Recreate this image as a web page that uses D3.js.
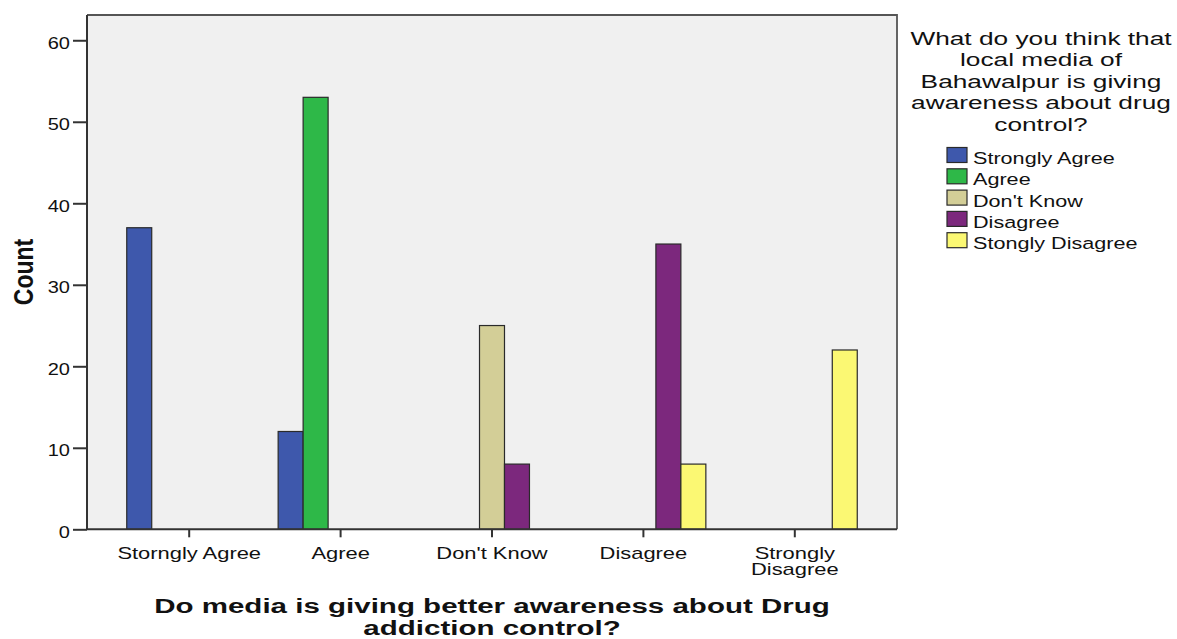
<!DOCTYPE html>
<html>
<head>
<meta charset="utf-8">
<script src="https://cdn.jsdelivr.net/npm/d3@7"></script>
<style>
  html, body { margin: 0; padding: 0; background: #ffffff; }
  svg { display: block; }
  text { font-family: "Liberation Sans", Arial, sans-serif; fill: #111; }
</style>
</head>
<body>
<svg id="chart" width="1177" height="639"></svg>
<script>
// Response categories on the x axis
const categories = ["Storngly Agree", "Agree", "Don't Know", "Disagree", "Strongly Disagree"];
// Legend groups (second question)
const seriesNames = ["Strongly Agree", "Agree", "Don't Know", "Disagree", "Stongly Disagree"];
const seriesColors = ["#3E58AC", "#2EB848", "#D3CE97", "#7C287D", "#FBF873"];
// Counts per legend group, one entry per x category
const stronglyAgree   = [37, 12, 0, 0, 0];
const agree           = [0, 53, 0, 0, 0];
const dontKnow        = [0, 0, 25, 0, 0];
const disagree        = [0, 0, 8, 35, 0];
const stonglyDisagree = [0, 0, 0, 8, 22];
const yTicks = [0, 10, 20, 30, 40, 50, 60];

const seriesValues = [stronglyAgree, agree, dontKnow, disagree, stonglyDisagree];

const svg = d3.select("#chart");
const plot = { left: 87, right: 897, top: 15, bottom: 529.3 };

// Text is drawn horizontally widened, as in the SPSS export
function stretchedText(sel, x, y, sx, anchor, size, str, weight) {
  return sel.append("text")
    .attr("transform", `translate(${x},${y}) scale(${sx},1)`)
    .attr("text-anchor", anchor)
    .attr("font-size", size)
    .attr("font-weight", weight || "normal")
    .text(str);
}

const x0 = d3.scaleBand()
  .domain(categories)
  .range([plot.left, plot.right])
  .paddingInner(0.175)
  .paddingOuter(0.2625);

const x1 = d3.scaleBand()
  .domain(seriesNames)
  .range([0, x0.bandwidth()])
  .padding(0);

const y = d3.scaleLinear()
  .domain([0, 63.1])
  .range([plot.bottom, plot.top]);

// Plot background
svg.append("rect")
  .attr("x", plot.left).attr("y", plot.top)
  .attr("width", plot.right - plot.left)
  .attr("height", plot.bottom - plot.top)
  .attr("fill", "#F0F0F0");

// Bars (zero counts are not drawn)
const barData = [];
categories.forEach((c, ci) => {
  seriesNames.forEach((s, si) => {
    const v = seriesValues[si][ci];
    if (v > 0) barData.push({ cat: c, series: s, value: v, color: seriesColors[si] });
  });
});

svg.append("g").selectAll("rect")
  .data(barData)
  .join("rect")
  .attr("x", d => x0(d.cat) + x1(d.series))
  .attr("y", d => y(d.value))
  .attr("width", x1.bandwidth())
  .attr("height", d => y(0) - y(d.value))
  .attr("fill", d => d.color)
  .attr("stroke", "#2a2a2a")
  .attr("stroke-width", 1.2);

// Frame (top and right sides)
svg.append("path")
  .attr("d", `M${plot.left},${plot.top}H${plot.right}V${plot.bottom}`)
  .attr("fill", "none")
  .attr("stroke", "#555")
  .attr("stroke-width", 1.8);

// Y axis
const yAxis = svg.append("g")
  .attr("transform", `translate(${plot.left},0)`)
  .call(d3.axisLeft(y).tickValues(yTicks).tickSize(14).tickFormat(""));
yAxis.select(".domain").attr("stroke", "#333").attr("stroke-width", 2)
  .attr("d", `M0,${plot.top}V${plot.bottom}`);
yAxis.selectAll(".tick line").attr("stroke", "#333").attr("stroke-width", 2);
yTicks.forEach(t => {
  stretchedText(svg, 70, y(t) + 8.5, 1.25, "end", 16, String(t));
});

// X axis
const xAxis = svg.append("g")
  .attr("transform", `translate(0,${plot.bottom})`)
  .call(d3.axisBottom(x0).tickSize(8).tickSizeOuter(0).tickFormat(""));
xAxis.select(".domain").attr("stroke", "#333").attr("stroke-width", 2)
  .attr("d", `M${plot.left},0H${plot.right}`);
xAxis.selectAll(".tick line").attr("stroke", "#333").attr("stroke-width", 2);

const xLabelLines = {
  "Storngly Agree": ["Storngly Agree"],
  "Agree": ["Agree"],
  "Don't Know": ["Don't Know"],
  "Disagree": ["Disagree"],
  "Strongly Disagree": ["Strongly", "Disagree"]
};
categories.forEach(c => {
  const cx = x0(c) + x0.bandwidth() / 2;
  xLabelLines[c].forEach((line, i) => {
    stretchedText(svg, cx, 558.5 + i * 16.7, 1.37, "middle", 16, line);
  });
});

// Axis titles
stretchedText(svg, 492, 613, 1.44, "middle", 20.5, "Do media is giving better awareness about Drug", "bold");
stretchedText(svg, 492, 634.5, 1.44, "middle", 20.5, "addiction control?", "bold");

svg.append("text")
  .attr("transform", "translate(33,272) scale(1.2,1) rotate(-90)")
  .attr("text-anchor", "middle")
  .attr("font-size", 23)
  .attr("font-weight", "bold")
  .text("Count");

// Legend
const legendTitle = ["What do you think that", "local media of", "Bahawalpur is giving", "awareness about drug", "control?"];
legendTitle.forEach((line, i) => {
  stretchedText(svg, 1041, 45 + i * 21.4, 1.42, "middle", 18.5, line);
});

const legend = svg.append("g");
seriesNames.forEach((s, i) => {
  const by = 164 + i * 21.3;
  legend.append("rect")
    .attr("x", 947).attr("y", by - 16.5)
    .attr("width", 20).attr("height", 15)
    .attr("fill", seriesColors[i])
    .attr("stroke", "#2a2a2a")
    .attr("stroke-width", 1.2);
  stretchedText(legend, 973, by, 1.31, "start", 16.5, s);
});
</script>
</body>
</html>
